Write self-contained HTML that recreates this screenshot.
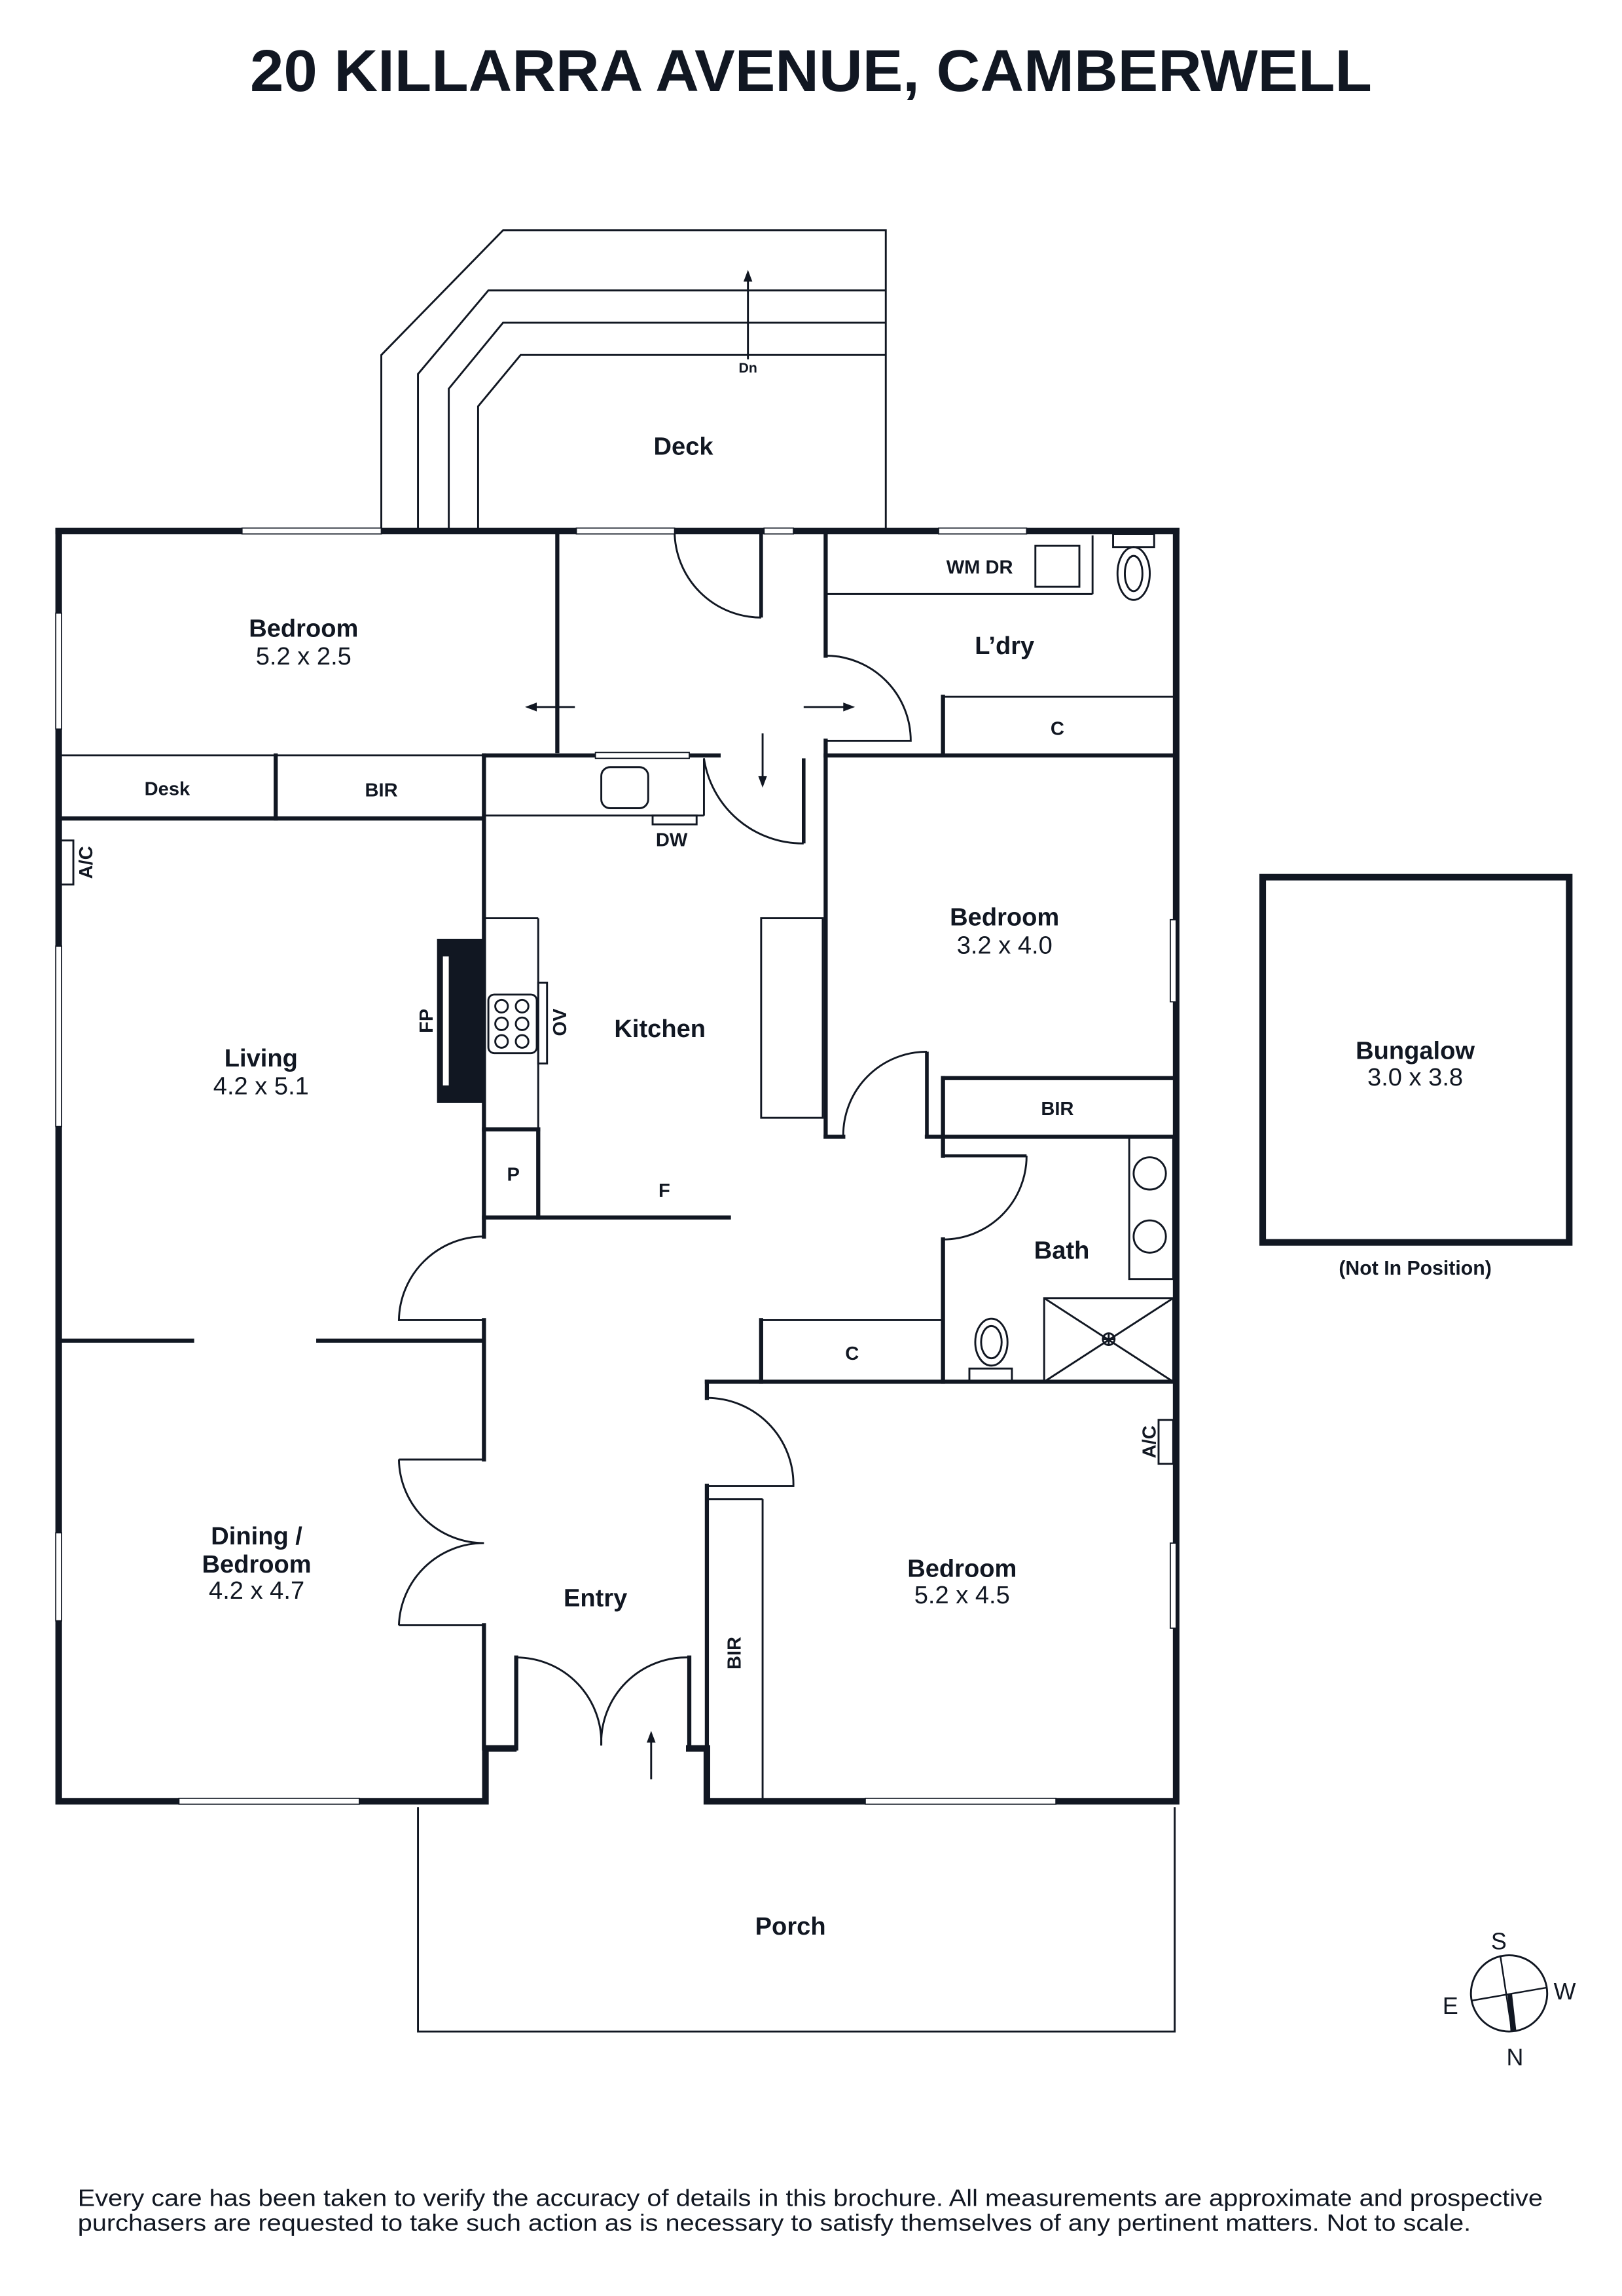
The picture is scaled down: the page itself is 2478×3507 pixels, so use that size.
<!DOCTYPE html>
<html><head><meta charset="utf-8"><style>
html,body{margin:0;padding:0;background:#fff;}
svg{display:block;}
text{font-family:"Liberation Sans",sans-serif;fill:#111722;}
.b{font-weight:bold;}
</style></head><body>
<svg width="2478" height="3507" viewBox="0 0 1106 1565.3" xmlns="http://www.w3.org/2000/svg">
<rect width="1106" height="1566" fill="#fff"/>
<text x="553" y="62" class="b" font-size="40" text-anchor="middle" textLength="765" lengthAdjust="spacingAndGlyphs">20 KILLARRA AVENUE, CAMBERWELL</text>

<g fill="none" stroke="#111722" stroke-width="1.3">
<polyline points="260,362 260,242 343,157 604,157 604,362"/>
<polyline points="285,362 285,255 333,198 604,198"/>
<polyline points="306,362 306,265 343,220 604,220"/>
<polyline points="326,362 326,277 355,242 604,242"/>
<line x1="510" y1="245" x2="510" y2="190"/>
<polyline points="285,1232 285,1385 801,1385 801,1232"/>
<line x1="40" y1="515" x2="330" y2="515"/>
<line x1="563" y1="405" x2="745" y2="405"/>
<line x1="745" y1="365" x2="745" y2="405"/>
<rect x="706" y="372" width="30" height="28"/>
<ellipse cx="773" cy="391" rx="11" ry="18"/>
<ellipse cx="773" cy="391" rx="6" ry="12"/>
<rect x="759" y="364" width="28" height="9"/>
<line x1="643" y1="475" x2="800" y2="475"/>
<line x1="330" y1="556" x2="480" y2="556"/>
<line x1="480" y1="517" x2="480" y2="556"/>
<rect x="410" y="523" width="32" height="28" rx="6"/>
<rect x="445" y="556" width="30" height="6"/>
<line x1="367" y1="626" x2="367" y2="770"/>
<line x1="330" y1="626" x2="367" y2="626"/>
<rect x="333" y="678" width="33" height="40" rx="4"/>
<circle cx="342" cy="686" r="4.3"/><circle cx="356" cy="686" r="4.3"/>
<circle cx="342" cy="698" r="4.3"/><circle cx="356" cy="698" r="4.3"/>
<circle cx="342" cy="710" r="4.3"/><circle cx="356" cy="710" r="4.3"/>
<rect x="367" y="670" width="6" height="55"/>
<rect x="519" y="626" width="42" height="136"/>
<rect x="40" y="573" width="10" height="30"/>
<rect x="790" y="968" width="10" height="30"/>
<rect x="770" y="775" width="30" height="97"/>
<circle cx="784" cy="800" r="11"/><circle cx="784" cy="843" r="11"/>
<rect x="712" y="885" width="88" height="57"/>
<line x1="712" y1="885" x2="800" y2="942"/><line x1="800" y1="885" x2="712" y2="942"/>
<circle cx="756" cy="913" r="4"/><line x1="752" y1="913" x2="760" y2="913"/><line x1="756" y1="909" x2="756" y2="917"/>
<ellipse cx="676" cy="915" rx="11" ry="16"/><ellipse cx="676" cy="915" rx="7" ry="11"/>
<rect x="661" y="933" width="29" height="9"/>
<line x1="519" y1="900" x2="643" y2="900"/>
<line x1="520" y1="1022" x2="520" y2="1228"/>
<line x1="482" y1="1022" x2="520" y2="1022"/>
<path d="M460,362 A59,59 0 0 0 519,421"/>
<path d="M563,447 A58,58 0 0 1 621,505 L563,505"/>
<path d="M480,517 A68,68 0 0 0 548,575"/>
<path d="M575,775 A57,57 0 0 1 632,717"/>
<path d="M700,788 A57,57 0 0 1 643,845"/>
<path d="M482,953 A59,59 0 0 1 541,1013 L482,1013"/>
<path d="M330,843 A58,58 0 0 0 272,900 L330,900"/>
<path d="M272,995 A58,58 0 0 0 330,1052 A58,58 0 0 0 272,1108"/>
<line x1="272" y1="995" x2="330" y2="995"/><line x1="272" y1="1108" x2="330" y2="1108"/>
<path d="M352,1130 A58,58 0 0 1 410,1190"/>
<path d="M470,1130 A58,58 0 0 0 410,1190"/>
<line x1="352" y1="1130" x2="352" y2="1192"/><line x1="470" y1="1130" x2="470" y2="1192"/>
<line x1="519" y1="362" x2="519" y2="421" stroke-width="2.5"/>
<line x1="548" y1="517" x2="548" y2="575" stroke-width="2.5"/>
<line x1="632" y1="717" x2="632" y2="775" stroke-width="2.5"/>
<line x1="643" y1="788" x2="700" y2="788" stroke-width="2"/>
<line x1="392" y1="482" x2="362" y2="482"/>
<line x1="548" y1="482" x2="578" y2="482"/>
<line x1="520" y1="500" x2="520" y2="532"/>
<line x1="444" y1="1213" x2="444" y2="1185"/>
<circle cx="1029" cy="1359" r="26" stroke-width="1.3"/>
<line x1="1023" y1="1333" x2="1031" y2="1385" stroke-width="1.1"/>
<line x1="1003" y1="1364" x2="1055" y2="1355" stroke-width="1.1"/>
</g>
<g fill="#111722">
<polygon points="510,184 507,192 513,192"/>
<polygon points="358,482 366,479 366,485"/>
<polygon points="583,482 575,479 575,485"/>
<polygon points="520,537 517,529 523,529"/>
<polygon points="444,1180 441,1188 447,1188"/>
<polygon points="1028,1360 1031,1359 1034,1385 1030,1385"/>
<rect x="298" y="640" width="32" height="112"/>
</g>
<rect x="302" y="652" width="4" height="88" fill="#fff"/>

<g fill="none" stroke="#111722" stroke-linecap="square">
<g stroke-width="4.5">
<polyline points="40,362 802,362"/>
<polyline points="40,362 40,1228 331,1228 331,1192 350,1192"/>
<polyline points="470,1192 482,1192 482,1228 802,1228 802,362"/>
<rect x="861" y="598" width="209" height="249"/>
</g>
<g stroke-width="2.8">
<line x1="380" y1="362" x2="380" y2="512"/>
<line x1="330" y1="515" x2="490" y2="515"/>
<line x1="563" y1="362" x2="563" y2="447"/>
<line x1="563" y1="505" x2="563" y2="775"/>
<line x1="563" y1="515" x2="800" y2="515"/>
<line x1="643" y1="475" x2="643" y2="515"/>
<line x1="330" y1="558" x2="40" y2="558"/>
<line x1="188" y1="515" x2="188" y2="558"/>
<line x1="330" y1="515" x2="330" y2="843"/>
<line x1="330" y1="770" x2="367" y2="770"/>
<line x1="367" y1="770" x2="367" y2="830"/>
<line x1="330" y1="830" x2="497" y2="830"/>
<line x1="563" y1="775" x2="575" y2="775"/>
<line x1="632" y1="775" x2="800" y2="775"/>
<line x1="643" y1="735" x2="800" y2="735"/>
<line x1="643" y1="735" x2="643" y2="775"/>
<line x1="643" y1="775" x2="643" y2="788"/>
<line x1="643" y1="845" x2="643" y2="942"/>
<line x1="519" y1="900" x2="519" y2="942"/>
<line x1="482" y1="942" x2="800" y2="942"/>
<line x1="482" y1="942" x2="482" y2="953"/>
<line x1="482" y1="1013" x2="482" y2="1228"/>
<line x1="40" y1="914" x2="131" y2="914"/>
<line x1="217" y1="914" x2="330" y2="914"/>
<line x1="330" y1="900" x2="330" y2="995"/>
<line x1="330" y1="1108" x2="330" y2="1192"/>
<line x1="352" y1="1192" x2="352" y2="1130"/>
<line x1="470" y1="1192" x2="470" y2="1130"/>
</g>
</g>
<g fill="#fff" stroke="#111722" stroke-width="0.8">
<rect x="165" y="360" width="95" height="4"/>
<rect x="393" y="360" width="67" height="4"/>
<rect x="521" y="360" width="20" height="4"/>
<rect x="640" y="360" width="60" height="4"/>
<rect x="406" y="513" width="64" height="4"/>
<rect x="38" y="418" width="4" height="79"/>
<rect x="38" y="645" width="4" height="123"/>
<rect x="38" y="1045" width="4" height="60"/>
<rect x="122" y="1226" width="123" height="4"/>
<rect x="590" y="1226" width="130" height="4"/>
<rect x="798" y="627" width="4" height="56"/>
<rect x="798" y="1052" width="4" height="58"/>
</g>

<g font-size="17" text-anchor="middle">
<text x="466" y="310" class="b">Deck</text>
<text x="207" y="434" class="b">Bedroom</text><text x="207" y="453">5.2 x 2.5</text>
<text x="685" y="446" class="b">L’dry</text>
<text x="685" y="631" class="b">Bedroom</text><text x="685" y="650">3.2 x 4.0</text>
<text x="178" y="727" class="b">Living</text><text x="178" y="746">4.2 x 5.1</text>
<text x="450" y="707" class="b">Kitchen</text>
<text x="724" y="858" class="b">Bath</text>
<text x="175" y="1053" class="b">Dining /</text><text x="175" y="1072" class="b">Bedroom</text><text x="175" y="1090">4.2 x 4.7</text>
<text x="656" y="1075" class="b">Bedroom</text><text x="656" y="1093">5.2 x 4.5</text>
<text x="406" y="1095" class="b">Entry</text>
<text x="539" y="1319" class="b">Porch</text>
<text x="965" y="722" class="b">Bungalow</text><text x="965" y="740">3.0 x 3.8</text>
</g>
<g font-size="13" text-anchor="middle">
<text x="114" y="542" class="b">Desk</text>
<text x="260" y="543" class="b">BIR</text>
<text x="668" y="391" class="b">WM  DR</text>
<text x="721" y="501" class="b">C</text>
<text x="458" y="577" class="b">DW</text>
<text x="350" y="805" class="b">P</text>
<text x="453" y="816" class="b">F</text>
<text x="721" y="760" class="b">BIR</text>
<text x="581" y="927" class="b">C</text>
<text x="965" y="869" class="b" font-size="13.5">(Not In Position)</text>
<text transform="translate(63,588) rotate(-90)" class="b">A/C</text>
<text transform="translate(295,696) rotate(-90)" class="b">FP</text>
<text transform="translate(386,697) rotate(-90)" class="b">OV</text>
<text transform="translate(505,1127) rotate(-90)" class="b">BIR</text>
<text transform="translate(788,983) rotate(-90)" class="b">A/C</text>
</g>
<text x="510" y="254" font-size="9.5" text-anchor="middle" class="b">Dn</text>
<g font-size="16" text-anchor="middle">
<text x="1022" y="1329">S</text>
<text x="1067" y="1363">W</text>
<text x="989" y="1373">E</text>
<text x="1033" y="1408">N</text>
</g>
<g font-size="16">
<text x="53" y="1504" textLength="999" lengthAdjust="spacingAndGlyphs">Every care has been taken to verify the accuracy of details in this brochure. All measurements are approximate and prospective</text>
<text x="53" y="1521" textLength="950" lengthAdjust="spacingAndGlyphs">purchasers are requested to take such action as is necessary to satisfy themselves of any pertinent matters. Not to scale.</text>
</g>
</svg>
</body></html>
